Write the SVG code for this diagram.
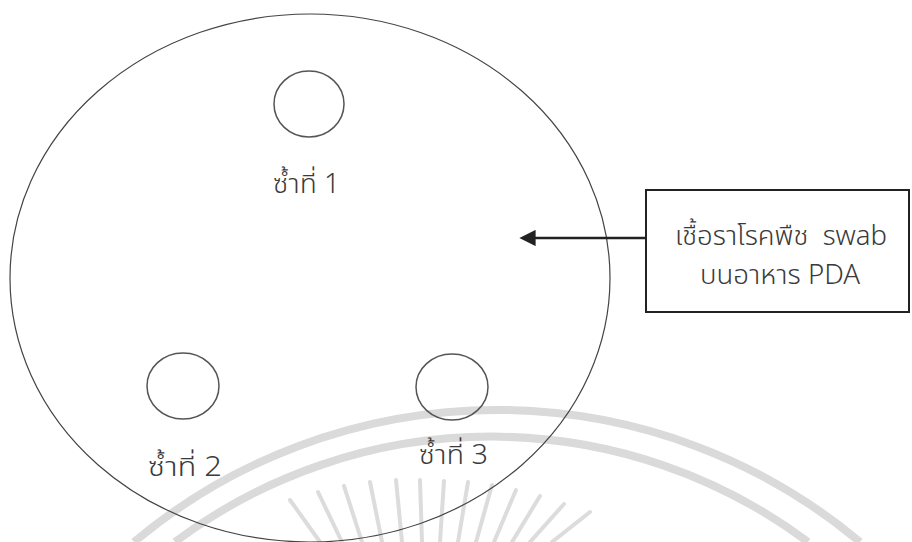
<svg xmlns="http://www.w3.org/2000/svg" width="912" height="542" viewBox="0 0 912 542">
<style>
.lbl{font-family:"Noto Sans Thai","Noto Sans","DejaVu Sans",sans-serif;font-size:27px;font-weight:300;fill:#3a3a3a;}
.dish{fill:none;stroke:#444;stroke-width:1.2;}
.spot{fill:none;stroke:#555;stroke-width:1.5;}
.wm{fill:none;stroke:#dadada;stroke-width:8;}
.ray{stroke:#dcdcdc;stroke-width:4;stroke-linecap:round;}
</style>
<defs>
<marker id="ah" viewBox="0 0 10 10" refX="1" refY="5" markerWidth="6.5" markerHeight="6.5" orient="auto-start-reverse" markerUnits="strokeWidth">
<path d="M0,0 L10,5 L0,10 Z" fill="#222"/>
</marker>
</defs>
<rect width="912" height="542" fill="#fff"/>
<g id="watermark">
<path class="wm" d="M134,542 A565,565 0 0 1 860,542"/>
<path class="wm" d="M175,542 A528,528 0 0 1 808,542"/>
<g class="ray">
<line x1="290" y1="500" x2="320" y2="542"/>
<line x1="318" y1="492" x2="342" y2="542"/>
<line x1="344" y1="486" x2="362" y2="542"/>
<line x1="370" y1="482" x2="382" y2="542"/>
<line x1="396" y1="480" x2="402" y2="542"/>
<line x1="420" y1="480" x2="422" y2="542"/>
<line x1="444" y1="481" x2="440" y2="542"/>
<line x1="468" y1="482" x2="458" y2="542"/>
<line x1="492" y1="485" x2="476" y2="542"/>
<line x1="516" y1="490" x2="494" y2="542"/>
<line x1="540" y1="496" x2="512" y2="542"/>
<line x1="564" y1="504" x2="530" y2="542"/>
<line x1="590" y1="512" x2="552" y2="542"/>
</g>
</g>
<g id="dish">
<ellipse class="dish" cx="310" cy="278" rx="300" ry="264"/>
</g>
<g id="rep1">
<ellipse class="spot" cx="309" cy="104" rx="35" ry="33"/>
<text class="lbl" x="273" y="193" textLength="67" lengthAdjust="spacingAndGlyphs">ซ้ำที่ 1</text>
</g>
<g id="rep2">
<ellipse class="spot" cx="183" cy="386" rx="36" ry="33"/>
<text class="lbl" x="148" y="476" textLength="74" lengthAdjust="spacingAndGlyphs">ซ้ำที่ 2</text>
</g>
<g id="rep3">
<ellipse class="spot" cx="452" cy="387" rx="36" ry="33"/>
<text class="lbl" x="419" y="464" textLength="69" lengthAdjust="spacingAndGlyphs">ซ้ำที่ 3</text>
</g>
<g id="source">
<rect x="646" y="190" width="263" height="122" fill="none" stroke="#222" stroke-width="2"/>
<text class="lbl" x="675" y="245" textLength="212" lengthAdjust="spacingAndGlyphs" xml:space="preserve">เชื้อราโรคพืช  swab</text>
<text class="lbl" x="700" y="284" textLength="160" lengthAdjust="spacingAndGlyphs">บนอาหาร PDA</text>
</g>
<g id="connectors">
<line x1="646" y1="238" x2="534" y2="238" stroke="#222" stroke-width="2.5" marker-end="url(#ah)"/>
</g>
</svg>
